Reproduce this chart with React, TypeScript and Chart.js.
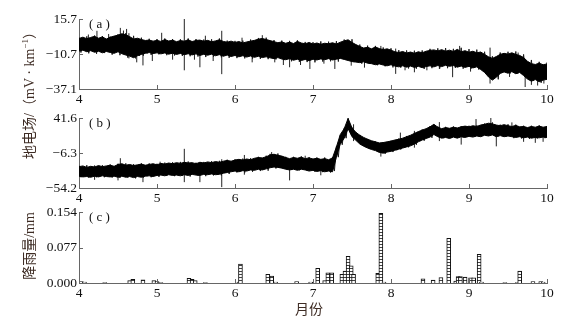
import React, { useEffect, useRef } from "react";
import { Chart, registerables } from "chart.js";

Chart.register(...registerables);

// ---------- data ----------
const SAMPLE_STEP = 0.05; // months between samples, starting at month 4
const xTickValues = [4, 5, 6, 7, 8, 9, 10];
const xTickLabels = ["4", "5", "6", "7", "8", "9", "10"];

// (a) dense core of the trace (mV/km)
const aCoreHigh = [
  1.0, 2.0, 0.8, 1.8, 2.6, 1.2, 2.2, 0.6, 1.9, 2.8, 3.5, 4.6, 3.8, 2.4, 0.6, 1.2, 0.2, -0.5, -0.2, -1.0, -0.4,
  -1.2, 0.2, -0.9, -0.3, -1.4, -0.6, -1.0, 0.0, -1.3, -0.5, -0.2, -1.1, -0.4, -1.5, -0.8, 0.0, -1.2, -1.8, -1.0, -2.0,
  -1.3, -2.4, -1.6, -1.0, -0.4, 0.5, 1.0, 0.2, -0.6, -1.4, -2.2, -1.6, -2.6, -1.8, -2.8, -1.2, -2.4, -3.0, -2.0, -3.2,
  -2.4, -3.4, -2.6, -3.0, -2.2, -3.2, -1.8, -0.8, 0.0, -2.0, -3.6, -5.0, -6.2, -5.6, -6.8, -5.4, -6.6, -7.4, -6.8, -7.8,
  -9.0, -9.6, -8.8, -10.0, -9.2, -10.2, -9.0, -9.8, -8.6, -8.0, -7.6, -8.4, -7.4, -8.6, -7.8, -8.8, -7.2, -9.0, -8.2, -9.4,
  -8.6, -9.8, -9.2, -11.0, -12.8, -14.0, -12.6, -11.0, -10.2, -10.8, -9.8, -11.0, -11.8, -13.4, -16.2, -18.0, -18.6, -17.6, -18.8, -18.2,
];
const aCoreLow = [
  -8.5, -7.8, -9.0, -8.2, -9.4, -8.6, -9.8, -8.8, -9.5, -10.2, -9.0, -10.5, -11.5, -12.3, -13.5, -12.0, -11.0, -10.2, -9.6, -10.4, -9.8,
  -10.6, -9.9, -10.8, -10.1, -11.0, -10.3, -11.2, -10.5, -11.4, -10.6, -11.8, -10.9, -11.6, -10.8, -12.0, -11.2, -12.4, -11.5, -12.6, -11.8,
  -12.8, -12.0, -13.0, -12.2, -13.2, -12.4, -13.4, -12.8, -13.6, -14.2, -13.4, -14.5, -15.0, -14.2, -15.4, -14.6, -15.6, -14.8, -15.8, -14.6,
  -15.2, -14.4, -15.0, -14.2, -15.2, -14.6, -14.0, -14.8, -15.6, -16.4, -16.8, -17.2, -16.6, -17.6, -18.0, -18.8, -18.2, -19.0, -19.6, -18.8,
  -19.8, -20.4, -19.6, -20.6, -19.8, -20.8, -20.0, -21.0, -20.2, -19.6, -20.4, -19.4, -20.2, -19.2, -20.0, -19.4, -20.6, -19.8, -20.8, -20.0,
  -21.2, -20.4, -22.4, -24.6, -28.0, -30.4, -28.2, -25.4, -24.2, -25.2, -24.0, -25.6, -24.6, -27.0, -29.6, -31.2, -30.0, -31.6, -30.4, -29.8,
];
// (a) noise extremes of each sample
const aHigh = [
  1.8, -0.2, 2.6, 0.4, 3.2, 0.0, 2.8, -0.4, 2.4, 0.6, 4.2, 2.0, 5.0, 1.0, 3.0, -0.6, 1.6, -1.6, 0.8, -2.0, 0.6,
  -2.2, 1.0, -1.8, 0.6, -2.4, 0.4, -2.0, 1.0, -2.2, 0.6, -1.4, 0.2, -2.2, 0.4, -2.0, 1.0, -2.4, -0.6, -2.6, -0.8,
  -2.8, -0.6, -2.6, 0.2, -1.6, 1.4, -0.4, 1.6, -1.8, -0.2, -3.2, -0.6, -3.4, -0.8, -3.6, -0.4, -3.2, -1.6, -3.6, -1.8,
  -3.6, -1.2, -3.8, -1.4, -3.4, -1.0, -2.8, 0.2, -1.2, 0.4, -4.4, -3.6, -6.8, -4.4, -7.6, -4.6, -7.4, -5.8, -8.2, -6.4,
  -10.0, -7.8, -10.4, -8.0, -10.8, -8.2, -10.4, -8.0, -9.6, -6.8, -8.8, -6.4, -8.6, -6.2, -9.0, -6.8, -8.4, -6.0, -9.6, -7.0,
  -9.8, -7.4, -10.6, -9.0, -13.4, -12.4, -14.4, -9.6, -11.6, -9.0, -11.4, -8.8, -12.6, -11.0, -17.0, -15.2, -19.6, -16.6, -19.8, -17.0,
];
const aLow = [
  -9.6, -7.6, -10.2, -8.0, -10.6, -8.4, -10.0, -8.8, -11.2, -8.6, -11.6, -8.2, -13.4, -10.4, -14.0, -12.0, -12.0, -10.2, -11.4, -8.8, -11.0,
  -9.6, -11.6, -9.2, -11.8, -9.4, -12.2, -9.6, -12.4, -9.8, -12.6, -10.0, -13.0, -10.2, -12.8, -10.4, -13.2, -10.6, -13.6, -11.0, -13.8,
  -11.2, -14.0, -11.4, -14.2, -11.6, -14.4, -11.8, -14.6, -12.4, -14.8, -13.2, -15.4, -13.4, -16.2, -13.6, -16.6, -14.0, -16.8, -13.8, -17.0,
  -13.6, -16.4, -13.4, -16.2, -13.6, -16.4, -13.8, -15.2, -15.0, -16.8, -16.2, -18.0, -16.4, -17.8, -17.0, -19.2, -17.8, -20.0, -17.8, -20.8,
  -19.0, -21.0, -19.0, -21.6, -19.2, -21.8, -19.6, -22.0, -18.6, -21.4, -18.4, -21.6, -18.2, -21.4, -18.4, -21.2, -18.8, -21.8, -19.0, -22.0,
  -19.6, -22.4, -21.4, -23.6, -28.6, -29.4, -29.8, -24.2, -23.8, -25.6, -22.8, -25.4, -25.6, -26.0, -28.4, -30.8, -29.0, -32.4, -28.6, -31.6,
];
// (a) isolated spikes
const aSpikeT = [4.12, 4.23, 4.38, 4.53, 4.57, 4.61, 4.64, 4.74, 4.82, 4.94, 5.06, 5.2, 5.35, 5.48, 5.55, 5.62, 5.72, 5.83, 6.09, 6.22, 6.35, 6.51, 6.62, 6.7, 6.84, 6.96, 7.14, 7.28, 7.49, 7.66, 7.87, 8.06, 8.18, 8.3, 8.46, 8.62, 8.79, 8.88, 9.02, 9.27, 9.4, 9.52, 9.63, 9.72, 9.8, 9.88, 9.96];
const aSpikeLo = [-3, -3, -4, -3, -3, -3, -14, -17, -19.3, -16, -4, -15, -23, -15, -20.7, -6, -16, -25.9, -7, -17, -8, -17, -19, -20.7, -19, -22, -18, -22, -19.5, -21, -14, -25.7, -23, -24.5, -23, -22, -28.2, -14, -24, -33, -24, -28, -20, -35.6, -34, -34.5, -33];
const aSpikeHi = [4.0, 6.8, 4.4, 9.0, 7.0, 8.2, 5.0, -8, -5, -5, 5.3, -8, 15.7, -8, -6, 3.1, -8, 6.8, 1.6, -9, 3.5, -8, -9, -8, -10, -9, -10, -9, -8, -12, -4.6, -6.6, -14, -14, -14, -12, -14, -4.6, -14, -5.9, -10.8, -15, -9.6, -22, -24, -24, -24];
const aTickValues = [-37.1, -10.7, 15.7];
const aTickLabels = ["\u221237.1", "\u221210.7", "15.7"];

// (b) dense core of the trace
const bCoreHigh = [
  -25, -24, -26, -24.5, -25.5, -23.5, -25, -24, -23, -24.5, -22, -21, -23, -22, -23.5, -22.5, -21.5, -23, -22, -21, -22.5,
  -20.5, -21.5, -20, -21, -19.5, -20.5, -19, -20, -19.5, -21, -19, -20, -18.5, -19.5, -18, -19, -17.5, -16.5, -17.5, -16,
  -15, -16, -14.5, -15.5, -13.5, -12.5, -13, -11.5, -9, -8, -9.5, -10.5, -12.5, -14, -12.5, -13.5, -12, -14, -13, -14.5,
  -13.5, -15, -14, -15.5, -13, 2, 19, 27, 41, 28, 22, 18, 15, 12.5, 10.5, 9, 7.5, 8, 9, 10,
  11.5, 12.5, 14, 16, 18, 20.5, 23, 25, 27, 29.5, 33, 29, 27, 28.5, 27.5, 29, 28, 29.5, 30.5, 29.5,
  31, 30, 32, 33, 34.5, 33.5, 32, 31, 32.5, 31, 30, 31.5, 29.5, 30, 28.5, 30, 29, 30.5, 29, 30,
];
const bCoreLow = [
  -38, -39, -38.5, -39.5, -38, -39, -37.5, -38.5, -39, -38, -39.5, -38, -39.5, -38.5, -40, -38.5, -39.5, -38, -37.5, -38.5, -37,
  -36.5, -37.5, -36, -37, -36.5, -37.5, -36, -37, -35.5, -36.5, -37, -35.5, -36, -35, -36, -35.5, -34, -33, -32, -31,
  -32, -30.5, -31, -29.5, -30, -28.5, -29.5, -28, -26.5, -25.5, -26, -27, -28.5, -29.5, -28.5, -30, -28.5, -29.5, -31, -30,
  -31.5, -30.5, -32, -31, -32, -12, 6, 14, 27, 16, 11, 6, 3, 0.5, -1.5, -3, -5.5, -6.5, -5, -4,
  -2.5, -1, 0.5, 2, 3.5, 6, 9, 11.5, 13.5, 15.5, 19, 16, 14, 15, 13.5, 15.5, 14, 16, 15, 16.5,
  15.5, 17, 16, 18, 17, 18.5, 16, 17.5, 16, 17, 16, 15, 16, 14.5, 15.5, 14, 15, 14.5, 15.5, 15,
];
// (b) noise extremes of each sample
const bHigh = [
  -23.5, -26, -23, -25.5, -23.5, -26, -23, -25.5, -22, -25, -21, -23.5, -20.5, -23.5, -21.5, -24, -20.5, -23.5, -20.5, -23, -21,
  -22.5, -19.5, -22, -19, -21.5, -18.5, -21, -18, -21, -19.5, -21.5, -18.5, -20, -17.5, -19.5, -17, -19, -15.5, -18, -15,
  -16.5, -14, -16, -13.5, -15, -11.5, -14, -10, -7.5, -9, -7, -11, -11.5, -14.5, -11.5, -14.5, -11, -14.5, -12, -15,
  -12.5, -15.5, -12.5, -16, -12, 3, 18, 28, 41, 29, 21.5, 18.5, 14, 13, 9.5, 9.5, 6.5, 8.5, 8, 10.5,
  10.5, 13.5, 13, 17, 17, 21.5, 22, 26, 26, 30.5, 32, 30, 26, 29.5, 26.5, 30, 27, 30.5, 29, 31,
  29.5, 31.5, 30.5, 34, 33, 35.5, 31, 32.5, 31, 33, 29, 32.5, 28.5, 31, 27.5, 31, 28, 31.5, 28, 30.5,
];
const bLow = [
  -39.5, -37, -40, -37.5, -39.5, -37, -39.5, -36.5, -40, -37.5, -40.5, -38, -40, -37.5, -41, -38, -40, -38, -39.5, -36.5, -39,
  -35.5, -37.5, -35, -38, -36, -37.5, -35.5, -38.5, -35, -37, -34.5, -38, -34, -37, -34.5, -37, -33, -35, -30, -33,
  -29.5, -33, -28.5, -32, -27.5, -31, -27, -30.5, -24.5, -27.5, -26, -27, -28, -29.5, -28.5, -30, -28.5, -30, -29, -32,
  -29.5, -32.5, -30, -33, -31, -12, 5, 14, 27, 15, 11, 5, 4, -0.5, -0.5, -4, -4.5, -7.5, -4, -5,
  -2.5, -1.5, 1, 1.5, 4.5, 5, 10, 10.5, 14.5, 14.5, 20, 15, 14, 15, 14.5, 14.5, 15, 15, 15.5, 16,
  16, 16.5, 17, 17, 17.5, 18, 16.5, 17, 16, 17, 14, 17, 13.5, 17, 13, 16.5, 13.5, 16, 14, 16.5,
];
const bSpikeT = [4.2, 4.5, 4.53, 4.82, 5.04, 5.35, 5.55, 5.83, 6.12, 6.47, 6.7, 6.9, 7.1, 7.52, 7.87, 8.12, 8.3, 8.62, 8.9, 9.09, 9.28, 9.35, 9.55, 9.7, 9.85, 9.95];
const bSpikeLo = [-43, -43.8, -30, -46.2, -30, -46.2, -46.2, -53, -36, -20, -43.8, -25, -36.8, 10, -11.2, 5, 1, 10, 5.2, 20, 20, 2.8, 20, 9, 7.6, 9];
const bSpikeHi = [-30, -30, -13.4, -30, -18.2, -0.6, -30, -14.8, -9, -5, -20, -10, -20, 33, 0, 21.6, 24, 36, 20, 40.2, 41.6, 20, 35.6, 20, 20, 20];
const bTickValues = [-54.2, -6.3, 41.6];
const bTickLabels = ["\u221254.2", "\u22126.3", "41.6"];

// (c) rainfall (mm)
const rainTimes = [4.03, 4.07, 4.33, 4.65, 4.69, 4.82, 4.96, 5.0, 5.05, 5.41, 5.45, 5.49, 5.62, 6.05, 6.07, 6.42, 6.47, 6.52, 6.79, 6.97, 7.06, 7.15, 7.19, 7.24, 7.37, 7.41, 7.45, 7.49, 7.52, 7.83, 7.87, 7.91, 8.41, 8.54, 8.64, 8.74, 8.83, 8.86, 8.89, 8.95, 9.02, 9.06, 9.13, 9.16, 9.46, 9.62, 9.65, 9.82, 9.92, 9.95];
const rainValues = [0.003, 0.002, 0.001, 0.005, 0.008, 0.007, 0.005, 0.003, 0.001, 0.010, 0.008, 0.005, 0.001, 0.002, 0.041, 0.019, 0.015, 0.002, 0.003, 0.002, 0.032, 0.005, 0.022, 0.022, 0.019, 0.026, 0.058, 0.037, 0.019, 0.021, 0.151, 0.002, 0.009, 0.0065, 0.012, 0.097, 0.004, 0.014, 0.014, 0.013, 0.011, 0.011, 0.062, 0.002, 0.001, 0.001, 0.026, 0.003, 0.003, 0.002];
const cTickValues = [0, 0.077, 0.154];
const cTickLabels = ["0.000", "0.077", "0.154"];

// ---------- styles ----------
const FONT = '"Liberation Serif", "Times New Roman", serif';
const AXIS_COLOR = "#666";
const TEXT_COLOR = "#111";
const TITLE_COLOR = "#3e2c24";
const TICK_SIZE = 13.5;

const sampleTimes = aHigh.map((_, i) => 4 + i * SAMPLE_STEP);

const panelDeco = {
  id: "panelDeco",
  afterDraw(chart: any, _args: any, opts: any) {
    const { ctx, chartArea, scales } = chart;
    const xs = scales.x;
    const ys = scales.y;
    ctx.save();
    ctx.strokeStyle = AXIS_COLOR;
    ctx.lineWidth = 1;
    ctx.beginPath();
    xs.ticks.forEach((t: any) => {
      const px = Math.round(xs.getPixelForValue(t.value)) + 0.5;
      ctx.moveTo(px, chartArea.bottom);
      ctx.lineTo(px, chartArea.bottom - 4);
    });
    ys.ticks.forEach((t: any) => {
      const py = Math.round(ys.getPixelForValue(t.value)) + 0.5;
      ctx.moveTo(chartArea.left, py);
      ctx.lineTo(chartArea.left + 4, py);
    });
    ctx.stroke();
    if (opts && opts.label) {
      ctx.fillStyle = TEXT_COLOR;
      ctx.font = `13px ${FONT}`;
      ctx.textBaseline = "middle";
      ctx.textAlign = "left";
      ctx.fillText(opts.label, chartArea.left + 10, chartArea.top + 6);
    }
    ctx.restore();
  },
};

function commonOptions(yMin: number, yMax: number, yTicks: number[], yLabels: string[], padTop: number, label: string) {
  return {
    responsive: false,
    maintainAspectRatio: false,
    animation: false,
    devicePixelRatio: 1,
    events: [],
    layout: { padding: { top: padTop, right: 36, bottom: 0, left: 0 } },
    plugins: { legend: { display: false }, tooltip: { enabled: false }, panelDeco: { label } },
    scales: {
      x: {
        type: "linear",
        min: 4,
        max: 10,
        offset: false,
        grid: { display: false, drawTicks: false },
        border: { display: true, color: AXIS_COLOR, width: 1 },
        ticks: {
          color: TEXT_COLOR,
          padding: 2,
          autoSkip: false,
          maxRotation: 0,
          font: { family: FONT, size: TICK_SIZE },
          callback: (_v: any, i: number) => xTickLabels[i],
        },
        afterBuildTicks: (s: any) => {
          s.ticks = xTickValues.map((v) => ({ value: v }));
        },
        afterFit: (s: any) => {
          s.height = 21;
        },
      },
      y: {
        type: "linear",
        min: yMin,
        max: yMax,
        grid: { display: false, drawTicks: false },
        border: { display: true, color: AXIS_COLOR, width: 1 },
        ticks: {
          color: TEXT_COLOR,
          padding: 2,
          autoSkip: false,
          font: { family: FONT, size: TICK_SIZE },
          callback: (_v: any, i: number) => yLabels[i],
        },
        afterBuildTicks: (s: any) => {
          s.ticks = yTicks.map((v) => ({ value: v }));
        },
        afterFit: (s: any) => {
          s.width = 79;
        },
      },
    },
  };
}

function lineConfig(
  coreHigh: number[], coreLow: number[], high: number[], low: number[],
  spT: number[], spLo: number[], spHi: number[],
  yTicks: number[], yLabels: string[], padTop: number, label: string
) {
  const pts = (vals: number[]) => vals.map((v, i) => ({ x: sampleTimes[i], y: v }));
  // the trace swings between the upper and lower readings of each sample
  const trace: any[] = [];
  high.forEach((h, i) => {
    trace.push({ x: sampleTimes[i], y: h }, { x: sampleTimes[i] + SAMPLE_STEP / 2, y: low[i] });
  });
  const spikes: any[] = [];
  spT.forEach((t, i) => {
    spikes.push({ x: t, y: spLo[i] }, { x: t, y: spHi[i] }, { x: t, y: null });
  });
  return {
    type: "line",
    data: {
      datasets: [
        { data: pts(coreHigh), borderColor: "#000", borderWidth: 1, pointRadius: 0, fill: false, tension: 0 },
        { data: pts(coreLow), borderColor: "#000", borderWidth: 1, pointRadius: 0, fill: "-1", backgroundColor: "#000", tension: 0 },
        { data: trace, borderColor: "#1a1a1a", borderWidth: 1, pointRadius: 0, fill: false, tension: 0 },
        { data: spikes, borderColor: "#222", borderWidth: 1, pointRadius: 0, fill: false, spanGaps: false },
      ],
    },
    options: commonOptions(yTicks[0], yTicks[yTicks.length - 1], yTicks, yLabels, padTop, label),
    plugins: [panelDeco],
  };
}

function barConfig(canvas: HTMLCanvasElement) {
  const pc = document.createElement("canvas");
  pc.width = 4;
  pc.height = 3;
  const pctx = pc.getContext("2d")!;
  pctx.fillStyle = "#fff";
  pctx.fillRect(0, 0, 4, 3);
  pctx.fillStyle = "#444";
  pctx.fillRect(0, 1, 4, 1);
  const pattern = canvas.getContext("2d")!.createPattern(pc, "repeat");
  return {
    type: "bar",
    data: {
      datasets: [
        {
          data: rainTimes.map((t, i) => ({ x: t, y: rainValues[i] })),
          backgroundColor: pattern,
          borderColor: "#111",
          borderWidth: 1,
          barThickness: 4,
        },
      ],
    },
    options: commonOptions(0, 0.154, cTickValues, cTickLabels, 17, "( c )"),
    plugins: [panelDeco],
  };
}

function Panel({ top, height, make }: { top: number; height: number; make: (c: HTMLCanvasElement) => any }) {
  const ref = useRef<HTMLCanvasElement>(null);
  useEffect(() => {
    const canvas = ref.current!;
    const chart = new Chart(canvas, make(canvas));
    return () => chart.destroy();
  }, []);
  return (
    <canvas
      ref={ref}
      width={583}
      height={height}
      style={{ position: "absolute", left: 0, top, width: 583, height }}
    />
  );
}

const rotTitle = (cx: number, cy: number): React.CSSProperties => ({
  position: "absolute",
  left: cx,
  top: cy,
  transform: "translate(-50%, -50%) rotate(-90deg)",
  whiteSpace: "nowrap",
  font: `14px "Liberation Serif", "Noto Sans CJK SC", serif`,
  lineHeight: "16px",
  color: TITLE_COLOR,
});

export default function App() {
  return (
    <div style={{ position: "absolute", left: 0, top: 0, width: 583, height: 321, background: "#fff", overflow: "hidden" }}>
      <Panel
        top={0}
        height={110}
        make={() => lineConfig(aCoreHigh, aCoreLow, aHigh, aLow, aSpikeT, aSpikeLo, aSpikeHi, aTickValues, aTickLabels, 19, "( a )")}
      />
      <Panel
        top={100}
        height={109}
        make={() => lineConfig(bCoreHigh, bCoreLow, bHigh, bLow, bSpikeT, bSpikeLo, bSpikeHi, bTickValues, bTickLabels, 18, "( b )")}
      />
      <Panel top={195} height={109} make={(c) => barConfig(c)} />
      <div style={rotTitle(30, 92)}>
        地电场/（mV · km<sup style={{ fontSize: 9, lineHeight: 0 }}>−1</sup>）
      </div>
      <div style={rotTitle(30, 246)}>降雨量/mm</div>
      <div
        style={{
          position: "absolute",
          left: 309,
          top: 308,
          transform: "translate(-50%, -50%)",
          whiteSpace: "nowrap",
          font: `14px "Noto Sans CJK SC", serif`,
          color: TITLE_COLOR,
        }}
      >
        月份
      </div>
    </div>
  );
}
